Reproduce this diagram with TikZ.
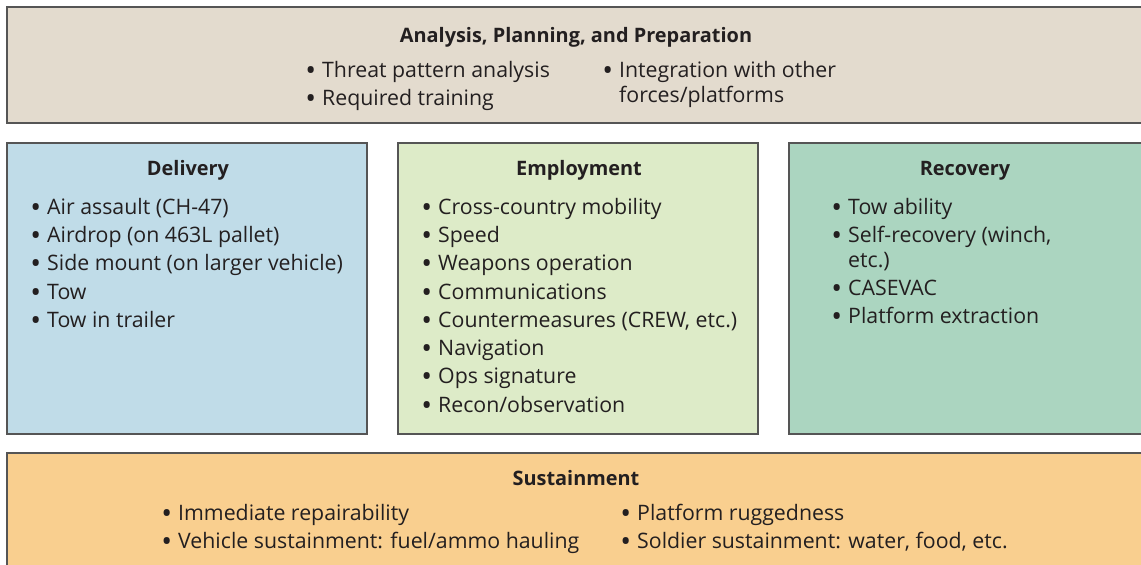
\documentclass[tikz,border=0pt]{standalone}
\usepackage{fontspec}
\setmainfont{Open Sans}
\definecolor{cTop}{HTML}{E3DBCE}
\definecolor{cDel}{HTML}{C0DCE8}
\definecolor{cEmp}{HTML}{DDEBC8}
\definecolor{cRec}{HTML}{ABD5C0}
\definecolor{cSus}{HTML}{F9CF8F}
\definecolor{cEdge}{HTML}{555555}
\definecolor{cText}{HTML}{231F20}
\tikzset{
  box/.style={draw=cEdge, line width=1.4pt},
  ttl/.style={font=\fontsize{19.9}{22}\selectfont\bfseries, text=cText, text height=0.72em, text depth=0.22em, inner sep=0pt},
  itm/.style={font=\fontsize{21.3}{24}\selectfont, text=cText, anchor=west, text height=0.72em, text depth=0.22em, inner sep=0pt},
}
\newcommand{\bul}{\llap{\raisebox{-2.5pt}{\scalebox{1.35}{•}}\hspace{6pt}}}
\begin{document}
\begin{tikzpicture}[x=1pt,y=-1pt]
\useasboundingbox (0,0) rectangle (1141,565);
% boxes
\path[box, fill=cTop] (7,7) rectangle (1152,123);
\path[box, fill=cDel] (7,143) rectangle (367,434);
\path[box, fill=cEmp] (398,143) rectangle (758,434);
\path[box, fill=cRec] (789,143) rectangle (1152,434);
\path[box, fill=cSus] (7,453) rectangle (1152,580);
% top
\node[ttl] (apt) at (576,40) {Analysis, Planning, and Preparation};
\node[itm] (ap1) at (322,75) {\bul Threat pattern analysis};
\node[itm] (ap2) at (322,103) {\bul Required training};
\node[itm] (ap3) at (619,75) {\bul Integration with other};
\node[itm] (ap4) at (619,100) {forces/platforms};
% delivery
\node[ttl] (dt) at (188,173) {Delivery};
\node[itm] (d1) at (47,212) {\bul Air assault (CH-47)};
\node[itm] (d2) at (47,240) {\bul Airdrop (on 463L pallet)};
\node[itm] (d3) at (47,268) {\bul Side mount (on larger vehicle)};
\node[itm] (d4) at (47,297) {\bul Tow};
\node[itm] (d5) at (47,325) {\bul Tow in trailer};
% employment
\node[ttl] (et) at (579,173) {Employment};
\node[itm] (e1) at (438,212) {\bul Cross-country mobility};
\node[itm] (e2) at (438,240) {\bul Speed};
\node[itm] (e3) at (438,268) {\bul Weapons operation};
\node[itm] (e4) at (438,297) {\bul Communications};
\node[itm] (e5) at (438,325) {\bul Countermeasures (CREW, etc.)};
\node[itm] (e6) at (438,353) {\bul Navigation};
\node[itm] (e7) at (438,381) {\bul Ops signature};
\node[itm] (e8) at (438,410) {\bul Recon/observation};
% recovery
\node[ttl] (rt) at (965,173) {Recovery};
\node[itm] (r1) at (848,212) {\bul Tow ability};
\node[itm] (r2) at (848,240) {\bul Self-recovery (winch,};
\node[itm] (r2b) at (848,265) {etc.)};
\node[itm] (r3) at (848,293) {\bul CASEVAC};
\node[itm] (r4) at (848,321) {\bul Platform extraction};
% sustainment
\node[ttl] (st) at (576,483) {Sustainment};
\node[itm] (s1) at (178,518) {\bul Immediate repairability};
\node[itm] (s2) at (178,546) {\bul Vehicle sustainment: fuel/ammo hauling};
\node[itm] (s3) at (637,518) {\bul Platform ruggedness};
\node[itm] (s4) at (637,546) {\bul Soldier sustainment: water, food, etc.};
\end{tikzpicture}
\end{document}
